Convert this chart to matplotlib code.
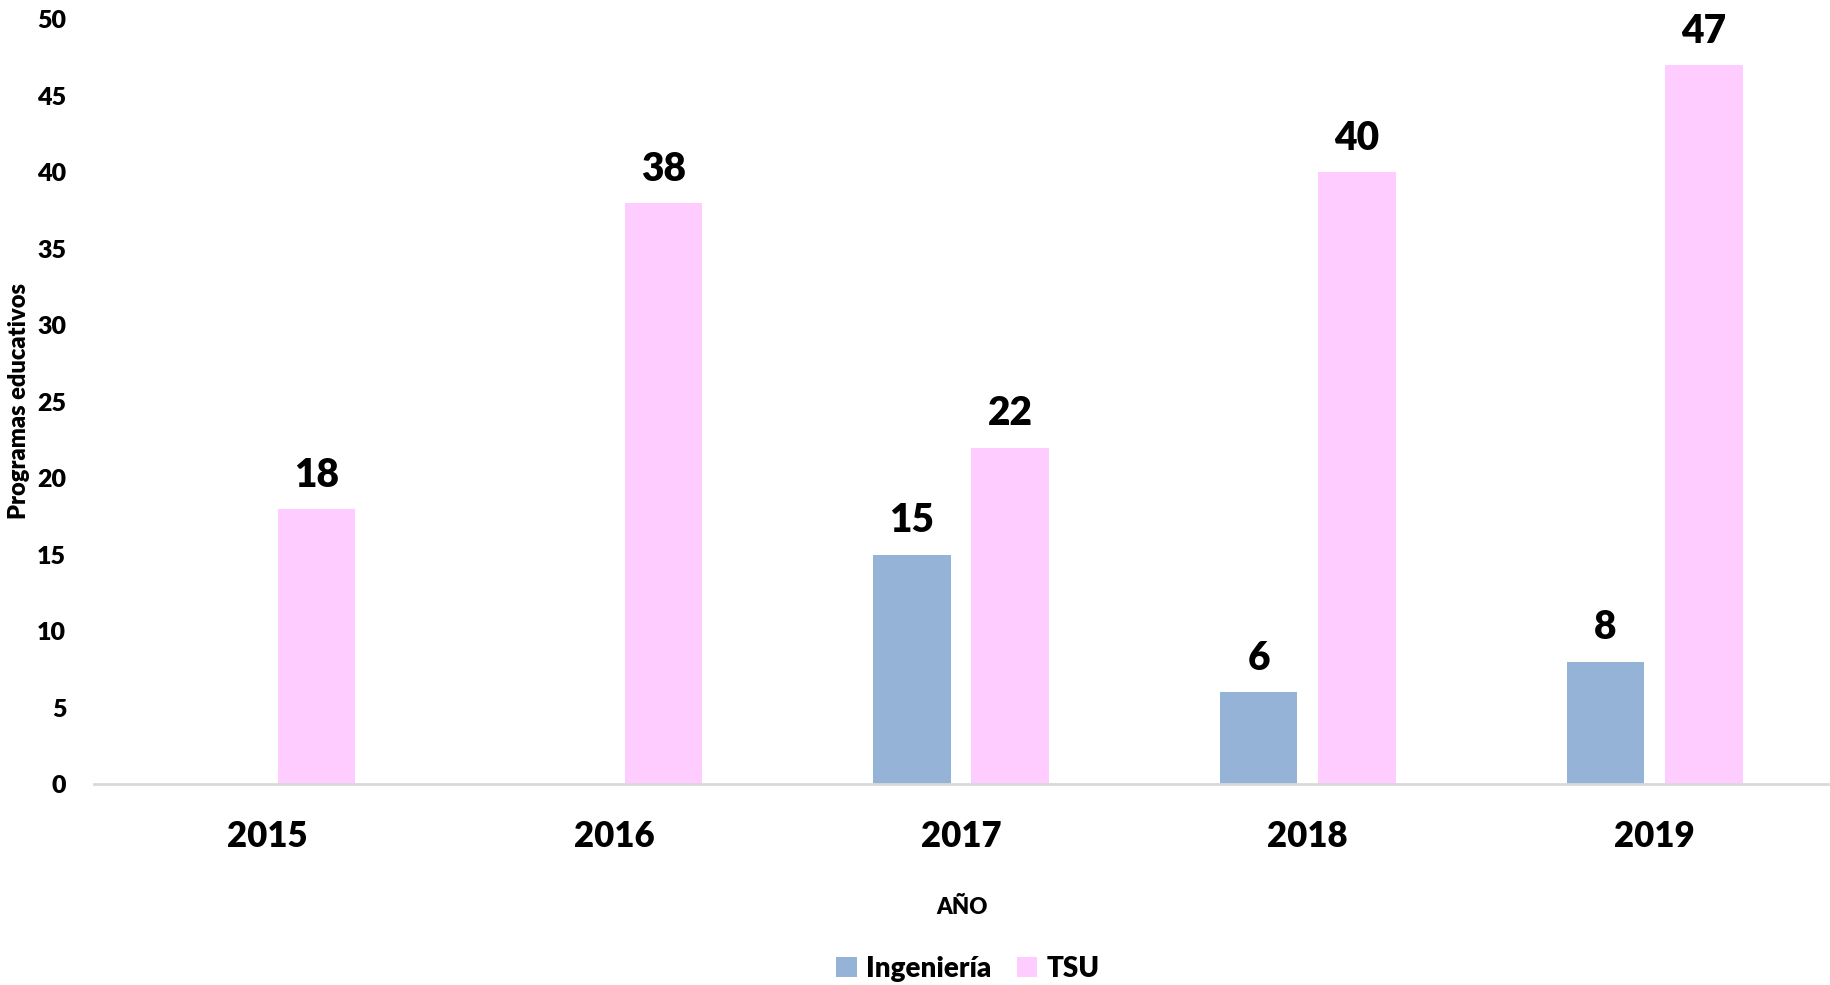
import matplotlib
matplotlib.use("Agg")
import matplotlib.pyplot as plt
import numpy as np

years = ["2015", "2016", "2017", "2018", "2019"]
ingenieria = [0, 0, 15, 6, 8]
tsu = [18, 38, 22, 40, 47]
series_names = ["Ingeniería", "TSU"]
colors = ["#95B3D7", "#FFCCFF"]
yticks = [0, 5, 10, 15, 20, 25, 30, 35, 40, 45, 50]

plt.rcParams['font.family'] = ['Lato', 'DejaVu Sans']
W = 'heavy'
plt.rcParams['font.weight'] = W

fig = plt.figure(figsize=(18.31, 9.85), dpi=100)
ax = fig.add_axes([94/1831, (985-784)/985, (1828-94)/1831, (784-19.5)/985])

x = np.arange(len(years))
w = 0.224
off = 0.142
b1 = ax.bar(x - off, ingenieria, w, color=colors[0], label=series_names[0])
b2 = ax.bar(x + off, tsu, w, color=colors[1], label=series_names[1])

for bars, vals in ((b1, ingenieria), (b2, tsu)):
    for rect, v in zip(bars, vals):
        if v == 0:
            continue
        ax.annotate(str(v), (rect.get_x() + rect.get_width()/2, v),
                    xytext=(0, 16), textcoords='offset points',
                    ha='center', va='baseline', fontsize=28, fontweight=W,
                    annotation_clip=False)

ax.set_xlim(-0.5, len(years) - 0.5)
ax.set_ylim(0, 50)
ax.set_yticks(yticks)
ax.set_yticklabels([str(t) for t in yticks], fontsize=18, fontweight=W)
ax.set_xticks(x)
ax.set_xticklabels(years, fontsize=25, fontweight=W)
ax.tick_params(axis='both', length=0)
ax.tick_params(axis='y', pad=20)
ax.tick_params(axis='x', pad=26)
for s in ['top', 'right', 'left']:
    ax.spines[s].set_visible(False)
ax.spines['bottom'].set_color('#D9D9D9')
ax.spines['bottom'].set_linewidth(2)

fig.text(19/1831, 1 - 401/985, "Programas educativos", rotation=90, ha='center', va='center',
         fontsize=17, fontweight=W)
fig.text(962/1831, 1 - 907/985, "AÑO", ha='center', va='center', fontsize=16, fontweight=W)

leg = fig.legend(handles=[b1, b2], labels=series_names, loc='center', bbox_to_anchor=(968/1831, 1 - 969/985),
                 ncol=2, frameon=False, handlelength=0.75, handleheight=0.75,
                 columnspacing=0.9, handletextpad=0.35, prop={'weight': W, 'size': 20})

fig.savefig("out.png", dpi=100)
